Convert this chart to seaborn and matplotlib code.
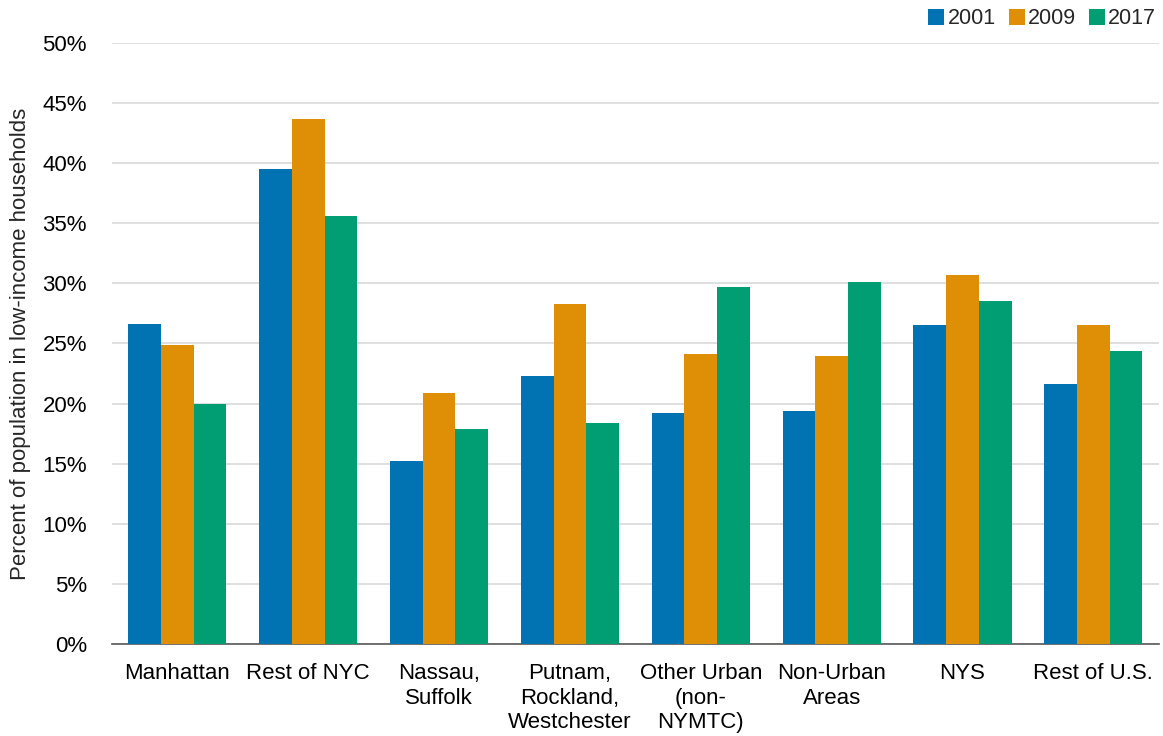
import pandas as pd
import seaborn as sns
import matplotlib.pyplot as plt
from matplotlib.ticker import PercentFormatter

# Values (percent of population)
regions = ['Manhattan', 'Rest of NYC', 'Nassau,\nSuffolk', 'Putnam,\nRockland,\nWestchester',
           'Other Urban\n(non-\nNYMTC)', 'Non-Urban\nAreas', 'NYS', 'Rest of U.S.']
years = ['2001', '2009', '2017']
pct_2001 = [26.6, 39.5, 15.2, 22.3, 19.2, 19.4, 26.5, 21.6]
pct_2009 = [24.9, 43.7, 20.9, 28.3, 24.1, 24.0, 30.7, 26.5]
pct_2017 = [20.0, 35.6, 17.9, 18.4, 29.7, 30.1, 28.5, 24.4]
colors = ['#0173B2', '#DE8F05', '#029E73']

df = pd.DataFrame({'region': regions * 3,
                   'year': [y for y in years for _ in regions],
                   'pct': pct_2001 + pct_2009 + pct_2017})

sns.set_style('white')
plt.rcParams['font.family'] = ['Liberation Sans', 'DejaVu Sans']

fig = plt.figure(figsize=(11.63, 7.36), dpi=100)
ax = fig.add_axes([0.0963, 0.125, 0.9, 0.8166])

sns.barplot(data=df, x='region', y='pct', hue='year', palette=colors,
            width=0.75, saturation=1, errorbar=None, ax=ax, zorder=3,
            linewidth=0, edgecolor='none')

ax.set_ylim(0, 50)
ax.set_yticks(range(0, 51, 5))
ax.yaxis.set_major_formatter(PercentFormatter(decimals=0))
ax.grid(axis='y', color='#d9d9d9', linewidth=1.2, zorder=0)
ax.set_axisbelow(True)
for s in ['top', 'right', 'left']:
    ax.spines[s].set_visible(False)
ax.spines['bottom'].set_color('#595959')
ax.spines['bottom'].set_linewidth(1.2)
ax.tick_params(axis='both', length=0, labelsize=16, colors='black')
ax.tick_params(axis='y', pad=18)
ax.tick_params(axis='x', pad=14)
ax.set_xlabel('')
ax.set_ylabel('Percent of population in low-income households', fontsize=16, labelpad=8)
ax.set_xlim(-0.5, 7.5)

leg = ax.legend(loc='upper right', bbox_to_anchor=(1.006, 1.072), ncol=3, frameon=False,
                fontsize=15.5, handlelength=0.75, handleheight=0.75, handletextpad=0.15,
                columnspacing=0.6, borderaxespad=0)

fig.savefig('out.png', dpi=100)
